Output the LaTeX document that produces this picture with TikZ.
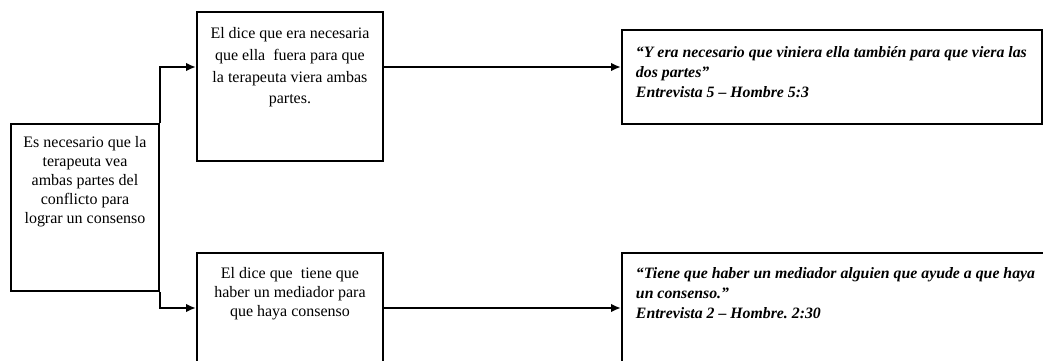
\documentclass[tikz,border=0pt]{standalone}
\usepackage{fontspec}
\setmainfont{Liberation Serif}
\usetikzlibrary{arrows.meta}
\usetikzlibrary{positioning}

% text sitting at the top of a fixed size box
\newcommand{\boxtext}[4]{\parbox[c][#2][t]{#1}{\vspace*{#3}#4}}

\begin{document}
\frenchspacing
\begin{tikzpicture}[x=0.02cm,y=-0.02cm,->,>={Latex[length=2mm,width=1.7mm]},line width=1.1pt,
  box node/.style={draw,inner sep=0pt,anchor=north west,line width=1.1pt},
  idea font/.style={font=\fontsize{9.1}{10.8}\selectfont},
  quote font/.style={font=\fontsize{9}{11.4}\selectfont\bfseries\itshape}]
\useasboundingbox (0,0) rectangle (1043,360);
%------------------------------------------------------------------------
% The idea and what he says
%------------------------------------------------------------------------
\node[box node,idea font] (idea) at (10,123) {\boxtext{2.96cm}{3.34cm}{7pt}{\centering
  Es necesario que la\\ terapeuta vea\\ ambas partes del\\ conflicto para\\ lograr un consenso}};
\node[box node,idea font] (sayA) at (196,11) {\boxtext{3.72cm}{2.98cm}{9pt}{\centering\baselineskip=12.3pt
  El dice que era necesaria\\ que ella\ \ fuera para que\\ la terapeuta viera ambas\\ partes.}};
\node[box node,idea font] (sayB) at (196,252) {\boxtext{3.72cm}{2.6cm}{8pt}{\centering
  El dice que\ \ tiene que\\ haber un mediador para\\ que haya consenso}};
%------------------------------------------------------------------------
% The quotes
%------------------------------------------------------------------------
\node[box node,quote font] (quoteA) at (621,29) {\boxtext{8.4cm}{1.88cm}{9.5pt}{\raggedright\leftskip=0.28cm
  “Y era necesario que viniera ella también para que viera las\\ dos partes”\\ Entrevista 5 – Hombre 5:3}};
\node[box node,quote font] (quoteB) at (621,252) {\boxtext{8.7cm}{2.6cm}{8pt}{\raggedright\leftskip=0.28cm
  “Tiene que haber un mediador alguien que ayude a que haya\\ un consenso.”\\ Entrevista 2 – Hombre. 2:30}};
%------------------------------------------------------------------------
% The links
%------------------------------------------------------------------------
\draw (idea.north east) |- ([yshift=-1.12cm]sayA.north west);
\draw (idea.south east) |- ([yshift=-1.12cm]sayB.north west);
\draw ([yshift=-1.12cm]sayA.north east) -- ([yshift=-1.12cm]sayA.north east -| quoteA.west);
\draw ([yshift=-1.12cm]sayB.north east) -- ([yshift=-1.12cm]sayB.north east -| quoteB.west);

\end{tikzpicture}
\end{document}
